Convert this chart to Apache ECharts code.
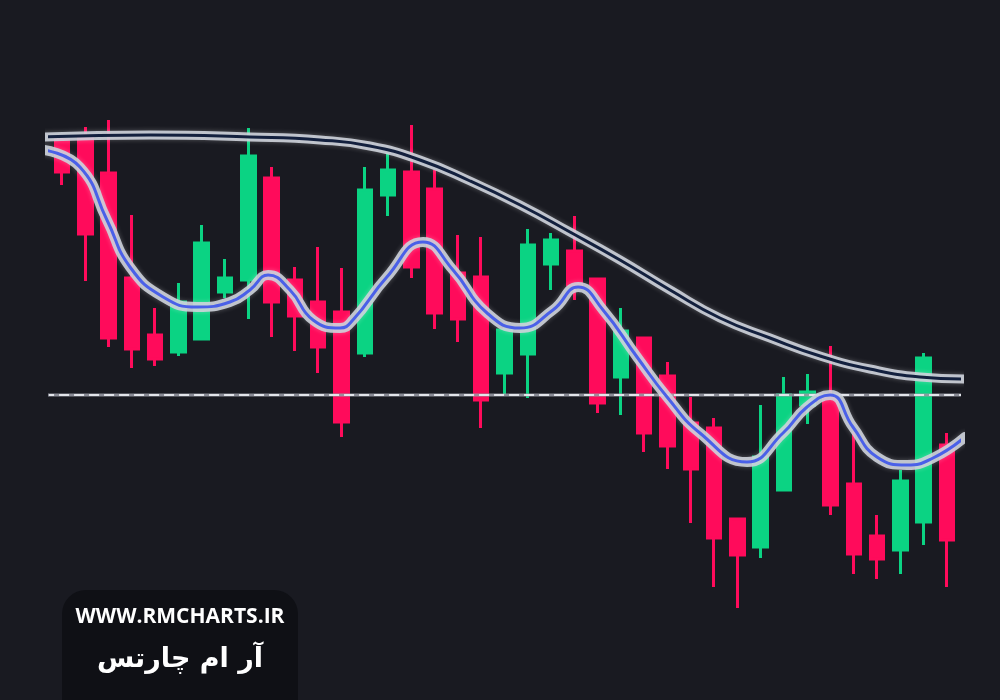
<!DOCTYPE html>
<html>
<head>
<meta charset="utf-8">
<script src="https://cdn.jsdelivr.net/npm/echarts@6/dist/echarts.min.js"></script>
<style>
html,body{margin:0;padding:0;background:#191a21;}
#chart{width:1000px;height:700px;}
</style>
</head>
<body>
<div id="chart"></div>
<script>
// Candle categories (sessions)
const categories = ['S01','S02','S03','S04','S05','S06','S07','S08','S09','S10','S11','S12','S13','S14','S15','S16','S17','S18','S19','S20','S21','S22','S23','S24','S25','S26','S27','S28','S29','S30','S31','S32','S33','S34','S35','S36','S37','S38','S39'];
// OHLC values
const opens  = [510,512,477,372,315,298,311,358,370,472,370,348,338,297,455,478,461,377,373,277,296,386,399,371,273,312,274,227,222,131,103,160,245,253,166,114,100,128,205];
const closes = [478,416,312,301,291,348,407,372,494,348,334,303,228,460,480,383,337,331,250,320,405,410,365,247,319,217,204,181,112, 95,193,255,258,145, 96, 91,169,292,110];
const lows   = [465,369,303,282,284,294,310,352,331,313,299,277,213,293,434,372,321,308,222,255,252,360,350,237,235,198,181,127, 63, 42, 92,160,226,135, 76, 71, 76,105, 63];
const highs  = [512,523,530,435,342,367,425,391,522,483,383,403,382,483,497,525,480,415,413,322,421,417,434,371,342,312,288,253,232,131,245,273,276,304,218,135,180,297,217];
// Smooth trend (upper) line: x in session index units, y in price
const upperX = [-0.77, 3.78, 8.07, 11.08, 13.22, 15.37, 17.52, 19.67, 21.81, 23.96, 26.11, 28.25, 30.40, 32.55, 34.69, 36.84, 38.77];
const upperY = [513, 515, 513, 510, 504, 490, 469, 445, 418, 390, 360, 332, 312, 294, 281, 273, 271];
// Wave (lower) line
const waveX = [-0.77, 0.77, 1.93, 2.92, 4.34, 5.80, 7.21, 8.07, 8.85, 9.79, 10.78, 11.94, 12.49, 13.95, 15.50, 16.79, 18.25, 19.67, 21.08, 22.16, 23.23, 24.69, 25.98, 27.39, 29.41, 30.96, 31.99, 32.98, 33.96, 34.99, 36.28, 37.40, 38.77];
const waveY = [500, 483, 430, 383, 353, 343, 348, 360, 375, 360, 330, 322, 330, 373, 408, 380, 337, 322, 340, 363, 340, 293, 253, 217, 188, 217, 243, 255, 223, 193, 185, 192, 213];
// Horizontal support level
const levelX = [-0.77, 38.77];
const levelY = [255, 255];

const candleData = categories.map((c, i) => [opens[i], closes[i], lows[i], highs[i]]);
const upperData = upperX.map((x, i) => [x, upperY[i]]);
const waveData = waveX.map((x, i) => [x, waveY[i]]);
const levelData = levelX.map((x, i) => [x, levelY[i]]);

const chart = echarts.init(document.getElementById('chart'));
const glow = 'rgba(205,209,218,0.9)';
chart.setOption({
  backgroundColor: '#191a21',
  animation: false,
  grid: {left: 50.35, right: 41.35, top: 100, bottom: 50},
  xAxis: [
    {type: 'category', data: categories, boundaryGap: true, show: false},
    {type: 'value', min: -0.5, max: 38.5, show: false}
  ],
  yAxis: {type: 'value', min: 0, max: 550, show: false},
  graphic: [
    {type: 'rect', shape: {x: 62, y: 590, width: 236, height: 140, r: 24}, style: {fill: '#0f1015'}, z: 10},
    {type: 'text', z: 11, style: {text: 'WWW.RMCHARTS.IR', x: 180, y: 617, fill: '#ffffff', font: 'bold 21px "Open Sans", sans-serif', align: 'center', verticalAlign: 'middle', textAlign: 'center', textVerticalAlign: 'middle'}},
    {type: 'text', z: 11, style: {text: 'آر ام چارتس', x: 180, y: 660, fill: '#ffffff', font: 'bold 27px "DejaVu Sans", sans-serif', align: 'center', verticalAlign: 'middle', textAlign: 'center', textVerticalAlign: 'middle'}}
  ],
  series: [
    {
      type: 'candlestick', data: candleData, barWidth: 14,
      itemStyle: {color: '#0bd383', color0: '#ff0b5b', borderColor: '#0bd383', borderColor0: '#ff0b5b', borderWidth: 3}
    },
    {type: 'line', xAxisIndex: 1, data: levelData, symbol: 'none', clip: false, z: 3,
     lineStyle: {color: 'rgba(150,152,162,0.9)', width: 3}},
    {type: 'line', xAxisIndex: 1, data: levelData, symbol: 'none', clip: false, z: 4,
     lineStyle: {color: '#e2e4ea', width: 2, type: [10, 5]}},
    {type: 'line', xAxisIndex: 1, data: upperData, symbol: 'none', smooth: 0.5, clip: false, z: 5,
     lineStyle: {color: glow, width: 9, cap: 'round', shadowBlur: 5, shadowColor: 'rgba(255,255,255,0.3)'}},
    {type: 'line', xAxisIndex: 1, data: upperData, symbol: 'none', smooth: 0.5, clip: false, z: 6,
     lineStyle: {color: '#13203e', width: 3, cap: 'round'}},
    {type: 'line', xAxisIndex: 1, data: waveData, symbol: 'none', smooth: 0.5, clip: false, z: 5,
     lineStyle: {color: glow, width: 10, cap: 'round', shadowBlur: 5, shadowColor: 'rgba(255,255,255,0.3)'}},
    {type: 'line', xAxisIndex: 1, data: waveData, symbol: 'none', smooth: 0.5, clip: false, z: 6,
     lineStyle: {color: '#4a60e8', width: 3, cap: 'round'}}
  ]
});
</script>
</body>
</html>
